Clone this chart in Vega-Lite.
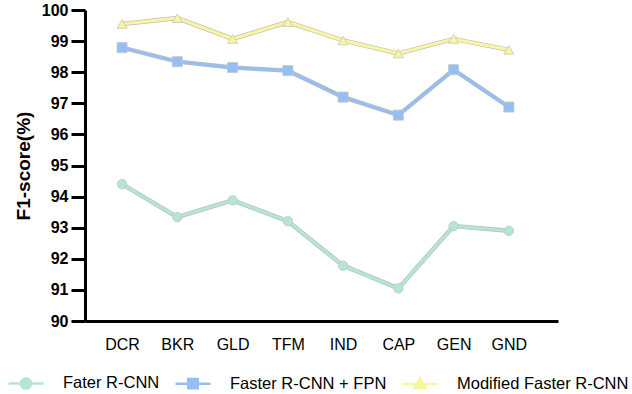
{
  "$schema": "https://vega.github.io/schema/vega-lite/v6.json",
  "width": 473,
  "height": 311,
  "autosize": {"type": "none"},
  "padding": {"left": 85, "top": 10, "right": 74, "bottom": 73},
  "background": "white",
  "config": {
    "view": {"stroke": null},
    "font": "Liberation Sans"
  },
  "data": {
    "values": [
      {"cat": "DCR", "model": "Fater R-CNN", "f1": 94.4},
      {"cat": "BKR", "model": "Fater R-CNN", "f1": 93.34},
      {"cat": "GLD", "model": "Fater R-CNN", "f1": 93.88},
      {"cat": "TFM", "model": "Fater R-CNN", "f1": 93.21},
      {"cat": "IND", "model": "Fater R-CNN", "f1": 91.78},
      {"cat": "CAP", "model": "Fater R-CNN", "f1": 91.05},
      {"cat": "GEN", "model": "Fater R-CNN", "f1": 93.05},
      {"cat": "GND", "model": "Fater R-CNN", "f1": 92.9},
      {"cat": "DCR", "model": "Faster R-CNN + FPN", "f1": 98.79},
      {"cat": "BKR", "model": "Faster R-CNN + FPN", "f1": 98.34},
      {"cat": "GLD", "model": "Faster R-CNN + FPN", "f1": 98.15},
      {"cat": "TFM", "model": "Faster R-CNN + FPN", "f1": 98.05},
      {"cat": "IND", "model": "Faster R-CNN + FPN", "f1": 97.2},
      {"cat": "CAP", "model": "Faster R-CNN + FPN", "f1": 96.62},
      {"cat": "GEN", "model": "Faster R-CNN + FPN", "f1": 98.08},
      {"cat": "GND", "model": "Faster R-CNN + FPN", "f1": 96.88},
      {"cat": "DCR", "model": "Modified Faster R-CNN", "f1": 99.55},
      {"cat": "BKR", "model": "Modified Faster R-CNN", "f1": 99.74},
      {"cat": "GLD", "model": "Modified Faster R-CNN", "f1": 99.07},
      {"cat": "TFM", "model": "Modified Faster R-CNN", "f1": 99.61},
      {"cat": "IND", "model": "Modified Faster R-CNN", "f1": 99.02},
      {"cat": "CAP", "model": "Modified Faster R-CNN", "f1": 98.6},
      {"cat": "GEN", "model": "Modified Faster R-CNN", "f1": 99.07},
      {"cat": "GND", "model": "Modified Faster R-CNN", "f1": 98.72}
    ]
  },
  "encoding": {
    "x": {
      "field": "cat",
      "type": "nominal",
      "sort": null,
      "scale": {"type": "point", "padding": 0.78, "align": 0.43},
      "axis": {
        "title": null,
        "labelAngle": 0,
        "domainColor": "black",
        "domainWidth": 3,
        "ticks": false,
        "labelPadding": 15,
        "labelFontSize": 16,
        "labelColor": "black"
      }
    },
    "y": {
      "field": "f1",
      "type": "quantitative",
      "scale": {"domain": [90, 100], "nice": false, "zero": false},
      "axis": {
        "title": "F1-score(%)",
        "titleFontSize": 19,
        "titleFontWeight": "bold",
        "titleColor": "black",
        "titlePadding": 8,
        "values": [90, 91, 92, 93, 94, 95, 96, 97, 98, 99, 100],
        "grid": false,
        "domainColor": "black",
        "domainWidth": 3,
        "tickColor": "black",
        "tickWidth": 3,
        "tickSize": 14,
        "labelFontSize": 16,
        "labelFontWeight": "bold",
        "labelColor": "black",
        "labelPadding": 3
      }
    }
  },
  "layer": [
    {
      "mark": {"type": "line", "stroke": "#bdbdbd", "strokeWidth": 4.4},
      "encoding": {"detail": {"field": "model"}}
    },
    {
      "mark": {"type": "line", "strokeWidth": 3},
      "encoding": {
        "color": {
          "field": "model",
          "type": "nominal",
          "sort": null,
          "scale": {
            "domain": ["Fater R-CNN", "Faster R-CNN + FPN", "Modified Faster R-CNN"],
            "range": ["#b3e6d4", "#94bff4", "#f9f79e"]
          },
          "legend": {
            "title": null,
            "orient": "none",
            "legendX": -78,
            "legendY": 354,
            "direction": "horizontal",
            "columns": 3,
            "columnPadding": 10,
            "symbolSize": 1225,
            "symbolStrokeWidth": 2.5,
            "labelFontSize": 16.5,
            "labelColor": "black",
            "labelOffset": 18,
            "labelLimit": 300,
            "encode": {
              "symbols": {
                "update": {
                  "shape": {"signal": "datum.value === 'Fater R-CNN' ? 'M-1,0L1,0M-0.29,0A0.29,0.29,0,1,1,0.29,0A0.29,0.29,0,1,1,-0.29,0Z' : datum.value === 'Faster R-CNN + FPN' ? 'M-1,0L1,0M-0.27,-0.27L0.27,-0.27L0.27,0.27L-0.27,0.27Z' : 'M-1,0L1,0M0,-0.32L0.32,0.24L-0.32,0.24Z'"},
                  "fill": {"scale": "color", "field": "value"},
                  "stroke": {"scale": "color", "field": "value"},
                  "opacity": {"value": 1}
                }
              }
            }
          }
        }
      }
    },
    {
      "transform": [{"filter": "datum.model === 'Fater R-CNN'"}],
      "mark": {"type": "point", "shape": "circle", "filled": true, "opacity": 1, "color": "#b3e6d4", "stroke": "#c4c4c4", "strokeWidth": 0.8, "size": 90}
    },
    {
      "transform": [{"filter": "datum.model === 'Faster R-CNN + FPN'"}],
      "mark": {"type": "point", "shape": "square", "filled": true, "opacity": 1, "color": "#94bff4", "stroke": "#c4c4c4", "strokeWidth": 0.8, "size": 100}
    },
    {
      "transform": [{"filter": "datum.model === 'Modified Faster R-CNN'"}],
      "mark": {"type": "point", "shape": "triangle-up", "filled": true, "opacity": 1, "color": "#f9f79e", "stroke": "#c4c4c4", "strokeWidth": 0.8, "size": 100}
    }
  ]
}
